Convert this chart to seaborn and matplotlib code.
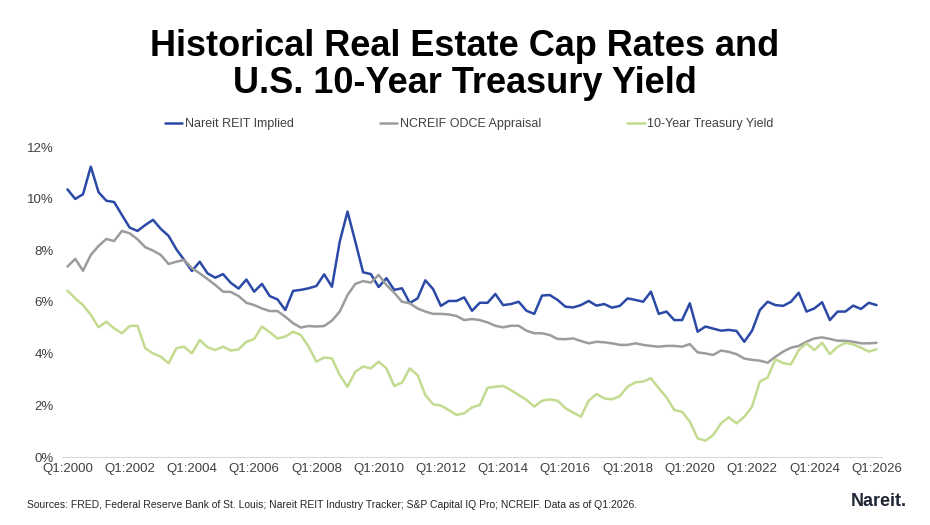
import pandas as pd
import matplotlib
matplotlib.use('Agg')
import matplotlib.pyplot as plt
import seaborn as sns
import numpy as np

# Quarterly series, Q1:2000 .. Q1:2026 (values in %)
nareit_reit = [10.36, 9.99, 10.17, 11.24, 10.25, 9.92, 9.87, 9.37, 8.88, 8.75,
               8.98, 9.18, 8.83, 8.56, 8.04, 7.63, 7.20, 7.56, 7.11, 6.94,
               7.08, 6.74, 6.52, 6.87, 6.40, 6.70, 6.23, 6.10, 5.69, 6.43,
               6.47, 6.53, 6.62, 7.07, 6.59, 8.34, 9.50, 8.34, 7.15, 7.08,
               6.58, 6.92, 6.47, 6.53, 5.96, 6.14, 6.84, 6.50, 5.85, 6.04,
               6.04, 6.18, 5.66, 5.97, 5.97, 6.31, 5.88, 5.92, 6.01, 5.66,
               5.54, 6.25, 6.27, 6.08, 5.82, 5.79, 5.88, 6.04, 5.86, 5.92,
               5.78, 5.85, 6.14, 6.08, 6.01, 6.40, 5.54, 5.63, 5.30, 5.30,
               5.95, 4.85, 5.05, 4.97, 4.89, 4.92, 4.88, 4.46, 4.89, 5.69,
               6.01, 5.88, 5.85, 6.01, 6.36, 5.63, 5.75, 5.99, 5.30, 5.63,
               5.63, 5.86, 5.73, 5.97, 5.88]
ncreif_odce = [7.37, 7.67, 7.21, 7.82, 8.17, 8.44, 8.36, 8.75, 8.66, 8.43,
               8.12, 7.99, 7.82, 7.47, 7.56, 7.63, 7.31, 7.11, 6.89, 6.66,
               6.40, 6.39, 6.23, 5.97, 5.88, 5.75, 5.65, 5.65, 5.43, 5.18,
               5.01, 5.07, 5.05, 5.07, 5.28, 5.63, 6.27, 6.70, 6.81, 6.75,
               7.05, 6.66, 6.36, 6.01, 5.95, 5.75, 5.63, 5.54, 5.54, 5.52,
               5.46, 5.30, 5.34, 5.30, 5.21, 5.08, 5.02, 5.08, 5.08, 4.89,
               4.79, 4.79, 4.72, 4.57, 4.56, 4.59, 4.49, 4.40, 4.46, 4.44,
               4.40, 4.34, 4.34, 4.40, 4.34, 4.30, 4.27, 4.30, 4.30, 4.27,
               4.37, 4.05, 4.01, 3.95, 4.12, 4.07, 3.98, 3.81, 3.76, 3.73,
               3.65, 3.88, 4.08, 4.23, 4.30, 4.46, 4.59, 4.63, 4.57, 4.50,
               4.50, 4.46, 4.40, 4.40, 4.42]
treasury_10y = [6.44, 6.14, 5.88, 5.50, 5.02, 5.24, 4.98, 4.79, 5.07, 5.08,
                4.21, 4.01, 3.88, 3.63, 4.21, 4.27, 4.01, 4.53, 4.25, 4.14,
                4.27, 4.12, 4.17, 4.46, 4.57, 5.05, 4.83, 4.59, 4.66, 4.85,
                4.72, 4.27, 3.69, 3.85, 3.82, 3.17, 2.72, 3.30, 3.50, 3.43,
                3.69, 3.43, 2.75, 2.88, 3.43, 3.17, 2.40, 2.04, 1.99, 1.82,
                1.63, 1.69, 1.92, 2.01, 2.68, 2.72, 2.75, 2.59, 2.40, 2.21,
                1.95, 2.18, 2.23, 2.18, 1.89, 1.72, 1.56, 2.18, 2.44, 2.27,
                2.23, 2.36, 2.72, 2.89, 2.92, 3.05, 2.66, 2.31, 1.82, 1.75,
                1.37, 0.72, 0.63, 0.85, 1.30, 1.54, 1.30, 1.56, 1.95, 2.92,
                3.08, 3.78, 3.63, 3.59, 4.14, 4.40, 4.14, 4.42, 3.98, 4.27,
                4.42, 4.36, 4.23, 4.08, 4.17]

series_names = ['Nareit REIT Implied', 'NCREIF ODCE Appraisal', '10-Year Treasury Yield']
tick_years = list(range(2000, 2027, 2))

quarters = np.arange(len(nareit_reit))
df = pd.DataFrame({
    'q': np.tile(quarters, 3),
    'value': nareit_reit + ncreif_odce + treasury_10y,
    'series': np.repeat(series_names, len(quarters)),
})

sns.set_style('white')
plt.rcParams['font.family'] = ['Liberation Sans', 'DejaVu Sans']

fig = plt.figure(figsize=(9.3, 5.25), dpi=100)
ax = fig.add_axes([62 / 930, 68 / 525, 820 / 930, 310 / 525])

palette = {'Nareit REIT Implied': '#2B49A6',
           'NCREIF ODCE Appraisal': '#9C9C9C',
           '10-Year Treasury Yield': '#C3DB90'}
sns.lineplot(data=df, x='q', y='value', hue='series', hue_order=series_names,
             palette=palette, linewidth=1.8, ax=ax)

ax.set_xlim(-0.7, 104.7)
ax.set_ylim(0, 12)
ax.set_yticks(range(0, 13, 2))
ax.set_yticklabels([f'{v}%' for v in range(0, 13, 2)], fontsize=9.5, color='#404040')
ax.set_xticks([(y - 2000) * 4 for y in tick_years])
ax.set_xticklabels([f'Q1:{y}' for y in tick_years], fontsize=9.5, color='#404040')
ax.tick_params(axis='x', length=0, pad=4)
ax.tick_params(axis='y', length=0, pad=6)
ax.set_xlabel('')
ax.set_ylabel('')
for s in ['top', 'right', 'left']:
    ax.spines[s].set_visible(False)
ax.spines['bottom'].set_color('#D9D9D9')

handles, labels = ax.get_legend_handles_labels()
ax.get_legend().remove()
fig.legend(handles, labels, loc='center', bbox_to_anchor=(469 / 930, 1 - 124 / 525),
           ncol=3, frameon=False, fontsize=9, handlelength=1.4, handletextpad=0.2,
           columnspacing=6.9, labelcolor='#404040')

fig.text(0.5, 1 - 65 / 525, 'Historical Real Estate Cap Rates and\nU.S. 10-Year Treasury Yield',
         ha='center', va='center', fontsize=26, fontweight='bold', color='black',
         linespacing=1.05)

fig.text(27 / 930, 1 - 505 / 525,
         'Sources: FRED, Federal Reserve Bank of St. Louis; Nareit REIT Industry Tracker; '
         'S&P Capital IQ Pro; NCREIF. Data as of Q1:2026.',
         ha='left', va='center', fontsize=7.5, color='#262626')
fig.text(851 / 930, 1 - 502 / 525, 'Nareit.', ha='left', va='center', fontsize=13,
         fontweight='bold', color='#1E2535')

fig.savefig('out.png', dpi=100)
